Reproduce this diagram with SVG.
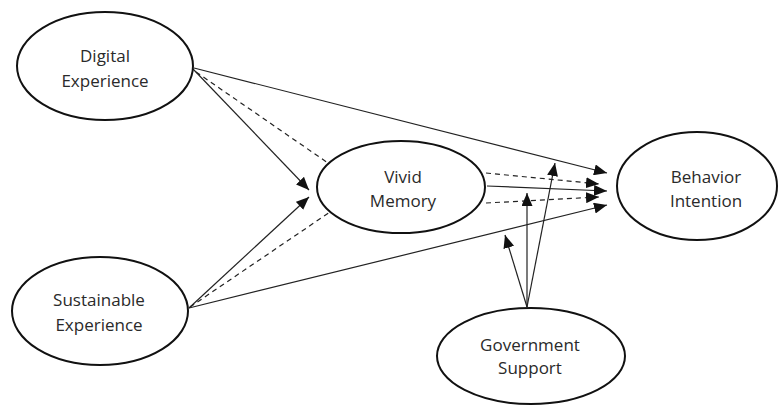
<svg xmlns="http://www.w3.org/2000/svg" width="783" height="407" viewBox="0 0 783 407">
<style>
.node ellipse{fill:#fff;stroke:#111;stroke-width:2}
.node text{font-family:"Open Sans","Liberation Sans",sans-serif;font-size:17px;fill:#2a2a2a;text-anchor:middle}
.c{stroke:#222;stroke-width:1.2;fill:none;marker-end:url(#ah)}
.d{stroke-dasharray:5,4}
</style>
<defs>
<marker id="ah" markerUnits="userSpaceOnUse" markerWidth="13" markerHeight="11" refX="13" refY="5.5" orient="auto">
<path d="M0,0 L13,5.5 L0,11 z" fill="#111"/>
</marker>
</defs>
<rect width="783" height="407" fill="#fff"/>
<g id="connectors">
<line class="c" x1="193" y1="69" x2="309" y2="190"/>
<line class="c d" x1="196" y1="72" x2="328" y2="163" style="marker-end:none"/>
<line class="c" x1="194" y1="68" x2="607" y2="173"/>
<line class="c" x1="189" y1="308" x2="309" y2="197"/>
<line class="c d" x1="190" y1="307" x2="330" y2="212" style="marker-end:none"/>
<line class="c" x1="189" y1="308" x2="607" y2="205"/>
<line class="c d" x1="486" y1="173" x2="599" y2="184"/>
<line class="c" x1="487" y1="186" x2="607" y2="191"/>
<line class="c d" x1="486" y1="203" x2="599" y2="197"/>
<line class="c" x1="527" y1="307" x2="505" y2="235"/>
<line class="c" x1="527" y1="307" x2="527" y2="193"/>
<line class="c" x1="527" y1="307" x2="555" y2="163"/>
</g>
<g id="digital" class="node">
<ellipse cx="105" cy="66" rx="88" ry="54"/>
<text x="105" y="62">Digital</text>
<text x="105" y="87">Experience</text>
</g>
<g id="sustainable" class="node">
<ellipse cx="100" cy="311" rx="88" ry="54"/>
<text x="99" y="306">Sustainable</text>
<text x="99" y="331">Experience</text>
</g>
<g id="vivid" class="node">
<ellipse cx="401" cy="187" rx="84" ry="46"/>
<text x="403" y="183">Vivid</text>
<text x="403" y="207">Memory</text>
</g>
<g id="behavior" class="node">
<ellipse cx="697" cy="186" rx="80" ry="54"/>
<text x="706" y="183">Behavior</text>
<text x="706" y="207">Intention</text>
</g>
<g id="government" class="node">
<ellipse cx="531" cy="356" rx="94" ry="48"/>
<text x="530" y="351">Government</text>
<text x="530" y="374">Support</text>
</g>
</svg>
